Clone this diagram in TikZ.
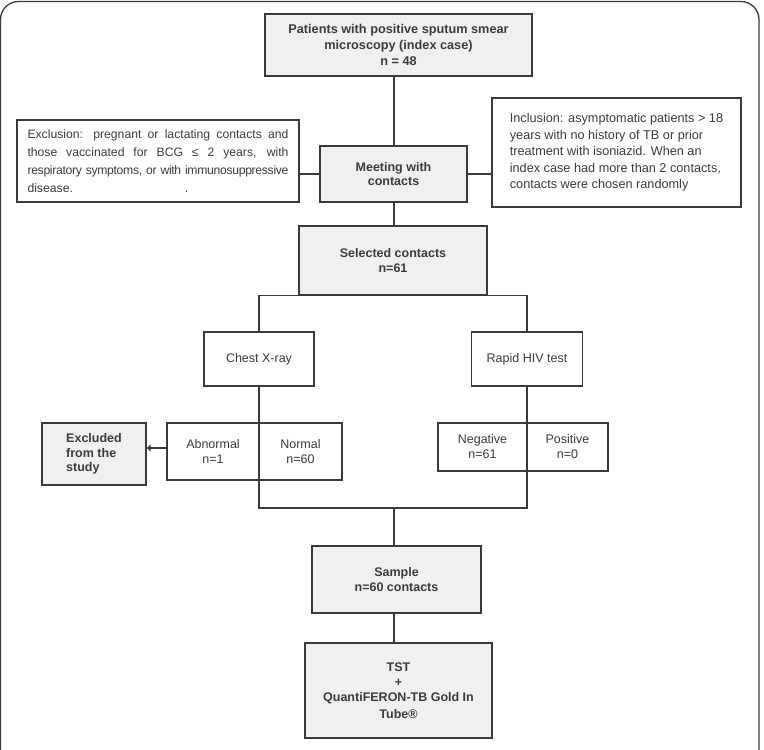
\documentclass[tikz,border=0pt]{standalone}
\usepackage{fontspec}
\setmainfont{Liberation Sans}
\usepackage{tikz}
\usetikzlibrary{arrows.meta}
\usetikzlibrary{positioning}
\definecolor{lineclr}{HTML}{3A3A3A}
\definecolor{boxfill}{HTML}{F0F0F0}
\definecolor{txtclr}{HTML}{3C3C3C}

\begin{document}
\begin{tikzpicture}[
x=1pt,y=-1pt,
MainBox/.style={draw=lineclr,fill=boxfill,line width=1.3pt,inner sep=0pt,align=center,text=txtclr,font=\fontsize{12.5}{15}\selectfont\bfseries},
PlainBox/.style={draw=lineclr,fill=white,line width=1.3pt,inner sep=0pt,align=center,text=txtclr,font=\fontsize{12.5}{15}\selectfont},
NoteBox/.style={draw=lineclr,fill=white,line width=1.3pt,inner sep=0pt,text=txtclr},
Links/.style={draw=lineclr,line width=1.2pt}
]
\useasboundingbox (0,0) rectangle (764,750);

% frame round the whole chart
\draw[lineclr,line width=1.3pt,rounded corners=18pt] (0.5,1.5) rectangle (759,768);

% the main column runs at this x
\coordinate (spine) at (394,0);
\coordinate (joinL) at (259,508);
\coordinate (joinR) at (527,508);

\node[MainBox,minimum width=267pt,minimum height=62pt,font=\fontsize{12.7}{16}\selectfont\bfseries] (index) at (398.5,45)
{Patients with positive sputum smear\\microscopy (index case)\\n = 48};

\node[MainBox,minimum width=147pt,minimum height=56pt,font=\fontsize{12.5}{14.5}\selectfont\bfseries] (meet) at (393.5,174) {Meeting with\\contacts};

\node[NoteBox,text width=261pt,align=justify,minimum width=282pt,minimum height=82pt,font=\fontsize{12.2}{18.2}\selectfont] (excl) at (158,161)
{Exclusion: pregnant or lactating contacts and\linebreak those vaccinated for BCG ≤ 2 years, with\linebreak {\addfontfeature{LetterSpace=-2.6}respiratory symptoms, or with immunosuppressive}\linebreak disease.\hspace*{112pt}.};

\node[NoteBox,align=left,minimum width=249pt,minimum height=109pt,font=\fontsize{12.7}{16.5}\selectfont] (incl) at (616.5,152.5)
{Inclusion: asymptomatic patients > 18\\years with no history of TB or prior\\treatment with isoniazid. When an\\index case had more than 2 contacts,\\contacts were chosen randomly};

\node[MainBox,minimum width=188pt,minimum height=69pt] (sel) at (393,260.5) {Selected contacts\\n=61};

% the two checks
\node[PlainBox,minimum width=110pt,minimum height=54pt] (xray) at (259,359) {Chest X-ray};
\node[PlainBox,minimum width=111pt,minimum height=54pt] (hiv) at (527,359) {Rapid HIV test};

\node[PlainBox,minimum width=92pt,minimum height=57pt] (abn) at (213,451.5) {Abnormal\\n=1};
\node[PlainBox,minimum width=83pt,minimum height=57pt] (norm) at (300.5,451.5) {Normal\\n=60};
\node[PlainBox,minimum width=89pt,minimum height=48pt] (neg) at (482.5,447) {Negative\\n=61};
\node[PlainBox,minimum width=81pt,minimum height=48pt] (pos) at (567.5,447) {Positive\\n=0};

\node[MainBox,align=left,minimum width=104pt,minimum height=62pt,font=\fontsize{12.5}{14.5}\selectfont\bfseries] (out) at (94,454) {Excluded\\from the\\study};

\node[MainBox,minimum width=169pt,minimum height=67pt] (samp) at (396.5,579.5) {Sample\\n=60 contacts};
\node[MainBox,minimum width=187pt,minimum height=95pt] (tst) at (398.5,690.5) {TST\\+\\QuantiFERON-TB Gold In\\[2pt]Tube®};

% connectors
\draw[Links] (index.south -| spine) -- (meet.north -| spine);
\draw[Links] (meet.south -| spine) -- (sel.north -| spine);
\draw[Links] (meet.west) -- (meet.west -| excl.east);
\draw[Links] (meet.east) -- (meet.east -| incl.west);
\draw[Links] (sel.south) -| (xray.north);
\draw[Links] (sel.south) -| (hiv.north);
\draw[Links] (xray.south) -- (joinL) -- (joinR) -- (hiv.south);
\draw[Links] (joinL -| spine) -- (samp.north -| spine);
\draw[Links] (samp.south -| spine) -- (tst.north -| spine);
\draw[Links,-{Latex[length=4pt,width=8pt]}] ([yshift=3.5pt]abn.west) -- ([yshift=3.5pt]abn.west -| out.east);

\end{tikzpicture}
\end{document}
